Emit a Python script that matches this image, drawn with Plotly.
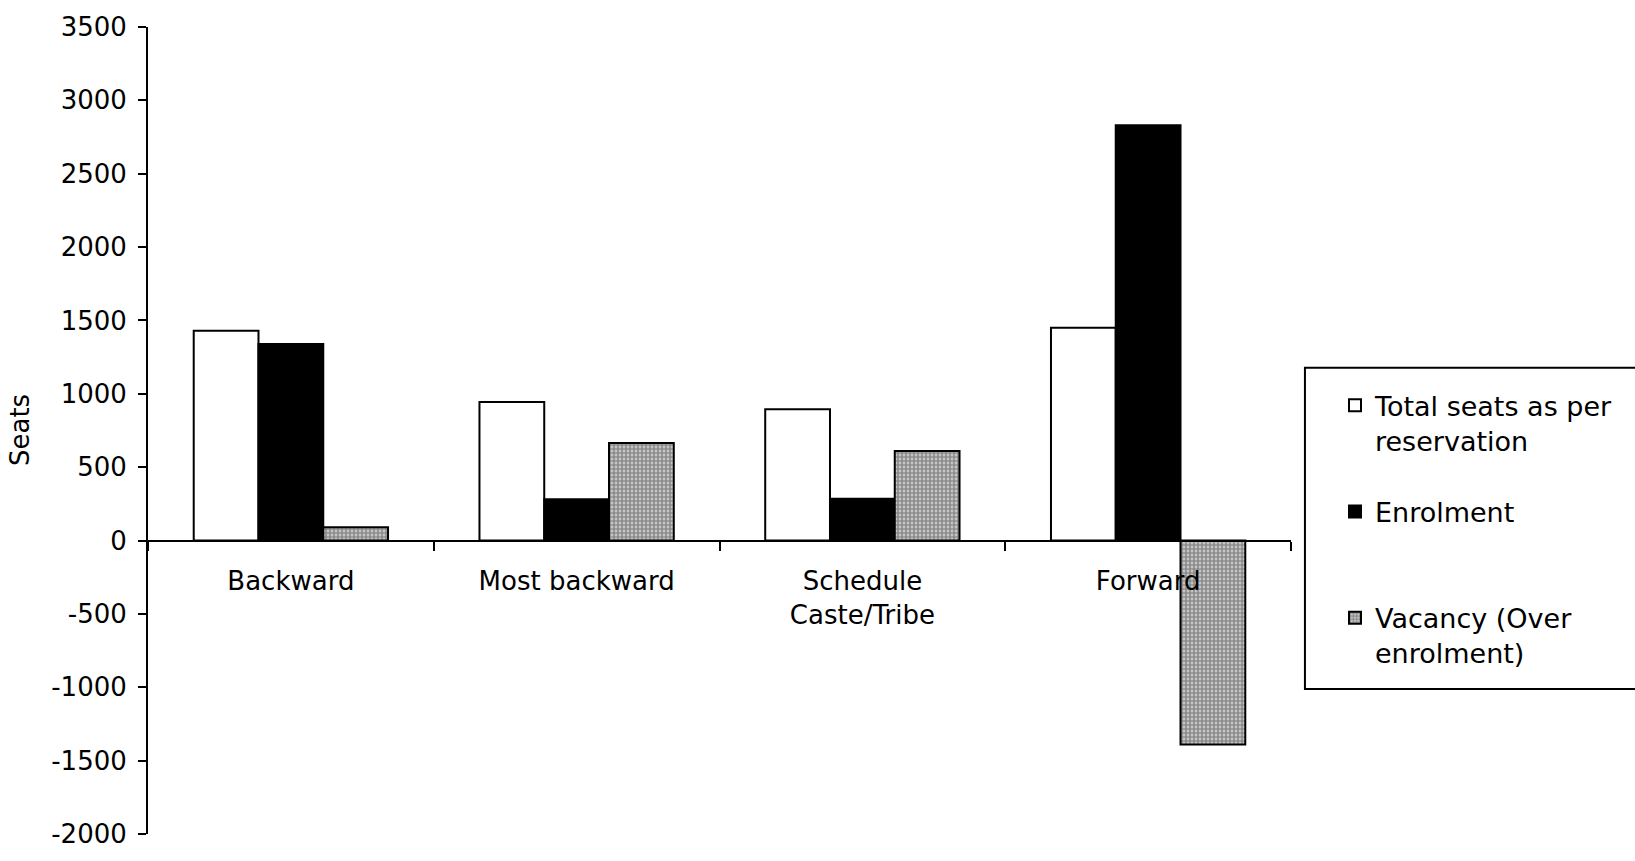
import plotly.graph_objects as go

# Seats by reservation category
categories = ["Backward", "Most backward", "Schedule<br>Caste/Tribe", "Forward"]
total_seats = [1430, 945, 895, 1450]
enrolment = [1340, 282, 285, 2830]
vacancy = [90, 665, 610, -1390]

series_names = ["Total seats as per<br>reservation", "Enrolment<br> ", "Vacancy (Over<br>enrolment)"]

y_ticks = [3500, 3000, 2500, 2000, 1500, 1000, 500, 0, -500, -1000, -1500, -2000]
y_tick_labels = ["3500", "3000", "2500", "2000", "1500", "1000", "500", "0",
                 "-500", "-1000", "-1500", "-2000"]

Y_MIN, Y_MAX = -2000, 3500
FAMILY = "DejaVu Sans, Arial, sans-serif"
FONT = dict(family=FAMILY, size=26, color="black")

fig = go.Figure()
fig.add_trace(go.Bar(
    x=categories, y=total_seats, name=series_names[0], legendgroup="total",
    marker=dict(color="white", line=dict(color="black", width=2)),
))
fig.add_trace(go.Bar(
    x=categories, y=enrolment, name=series_names[1], legendgroup="enrol",
    marker=dict(color="black", line=dict(color="black", width=2)),
))
fig.add_trace(go.Bar(
    x=categories, y=vacancy, name=series_names[2], legendgroup="vacancy",
    marker=dict(
        color="#999999",
        line=dict(color="black", width=2),
        pattern=dict(shape="+", size=4, solidity=0.5, fgcolor="#333333", bgcolor="#c4c4c4"),
    ),
))

# Legend frame (legend itself is drawn borderless inside it)
fig.add_shape(
    type="rect", xref="paper", yref="paper",
    x0=1.0122, x1=1.31, y0=0.1797, y1=0.5778,
    line=dict(color="black", width=2), fillcolor="rgba(0,0,0,0)", layer="above",
)

fig.update_layout(
    width=1635, height=861,
    margin=dict(l=148, r=344, t=15, b=17),
    paper_bgcolor="white", plot_bgcolor="white",
    font=FONT,
    barmode="group", bargap=0.32, bargroupgap=0,
    showlegend=True,
    legend=dict(
        x=1.0385, y=0.561, xanchor="left", yanchor="top",
        borderwidth=0, bgcolor="rgba(0,0,0,0)",
        font=dict(family=FAMILY, size=27, color="black"),
        tracegroupgap=33, valign="top", traceorder="grouped",
    ),
    xaxis=dict(
        anchor="free", position=(0 - Y_MIN) / (Y_MAX - Y_MIN),
        showline=True, linecolor="black", linewidth=2,
        ticks="outside", ticklen=9, tickwidth=2, tickcolor="black",
        tickson="boundaries", showgrid=False, zeroline=False,
        tickfont=FONT, ticklabelstandoff=17,
    ),
    yaxis=dict(
        range=[Y_MIN, Y_MAX], tickvals=y_ticks, ticktext=y_tick_labels,
        showline=True, linecolor="black", linewidth=2,
        ticks="outside", ticklen=8, tickwidth=2, tickcolor="black",
        showgrid=False, zeroline=False, tickfont=FONT,
        ticklabelstandoff=6,
    ),
    annotations=[dict(
        text="Seats", textangle=-90, showarrow=False,
        xref="paper", yref="paper", x=-0.1124, y=0.5,
        xanchor="center", yanchor="middle", font=FONT,
    )],
)

fig.write_html("out.html")
